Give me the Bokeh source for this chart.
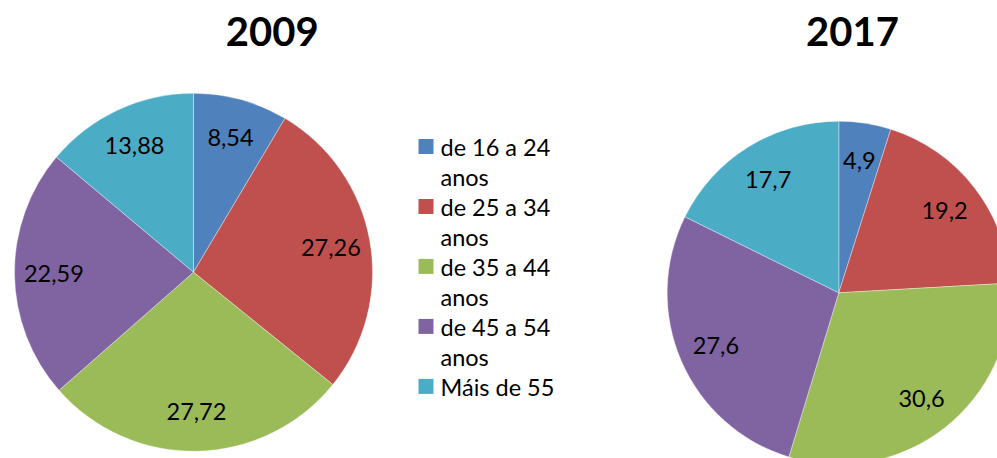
import math
from bokeh.plotting import figure
from bokeh.models import Range1d, ColumnDataSource
from bokeh.core.properties import value
from bokeh.embed import file_html
from bokeh.resources import INLINE

# ---- data ----
categories = ["de 16 a 24 anos", "de 25 a 34 anos", "de 35 a 44 anos", "de 45 a 54 anos", "Máis de 55"]
legend_lines = [["de 16 a 24", "anos"], ["de 25 a 34", "anos"], ["de 35 a 44", "anos"], ["de 45 a 54", "anos"], ["Máis de 55"]]
colors = ["#4F81BD", "#C0504D", "#9BBB59", "#8064A2", "#4BACC6"]
values_2009 = [8.54, 27.26, 27.72, 22.59, 13.88]
labels_2009 = ["8,54", "27,26", "27,72", "22,59", "13,88"]
values_2017 = [4.9, 19.2, 30.6, 27.6, 17.7]
labels_2017 = ["4,9", "19,2", "30,6", "27,6", "17,7"]
titles = ["2009", "2017"]

W, H = 997, 458
FONT = "Lato"

p = figure(width=W, height=H, output_backend="svg", toolbar_location=None,
           x_range=Range1d(0, W), y_range=Range1d(0, H), min_border=0)
p.axis.visible = False
p.grid.visible = False
p.outline_line_color = None
p.background_fill_color = "white"


def sy(y):
    # screen y (pixels from top) -> data y
    return H - y


def pie(vals, labels, cx, cy, r, frac):
    total = sum(vals)
    starts, ends, lx, ly = [], [], [], []
    cum = 0.0
    for v in vals:
        a0 = math.pi / 2 - 2 * math.pi * cum / total
        cum += v
        a1 = math.pi / 2 - 2 * math.pi * cum / total
        starts.append(a0)
        ends.append(a1)
        mid = (a0 + a1) / 2
        lx.append(cx + frac * r * math.cos(mid))
        ly.append(cy + frac * r * math.sin(mid))
    src = ColumnDataSource(dict(start=starts, end=ends, color=colors, lx=lx, ly=ly, label=labels,
                                cat=categories, val=vals))
    p.wedge(x=cx, y=cy, radius=r, start_angle="start", end_angle="end", direction="clock",
            fill_color="color", line_color="white", line_width=0.6, line_alpha=0.6, source=src)
    p.text(x="lx", y="ly", text="label", source=src, text_font=value(FONT), text_font_size="23.5px",
           text_align="center", text_baseline="middle", text_color="black")


pie(values_2009, labels_2009, 193, sy(271.7), 179, 0.78)
pie(values_2017, labels_2017, 838.3, sy(292.3), 171.6, 0.78)

# titles
p.text(x=[271.7, 852], y=[sy(31), sy(31)], text=titles, text_font=value(FONT),
       text_font_style="bold", text_font_size="40px", text_align="center",
       text_baseline="middle", text_color="black")

# legend
sq_x, sq_y, tx, ty = [], [], [], []
for i, lines in enumerate(legend_lines):
    y0 = 146.7 + 60 * i
    sq_x.append(425.5)
    sq_y.append(sy(y0 - 0.8))
    for j, ln in enumerate(lines):
        tx.append(ln)
        ty.append(sy(y0 + 30 * j))
p.scatter(x=sq_x, y=sq_y, marker="square", size=15, fill_color=colors, line_color=None)
p.text(x=[440] * len(tx), y=ty, text=tx, text_font=value(FONT), text_font_size="23.5px",
       text_align="left", text_baseline="middle", text_color="black")

open("out.html", "w").write(file_html(p, INLINE))
